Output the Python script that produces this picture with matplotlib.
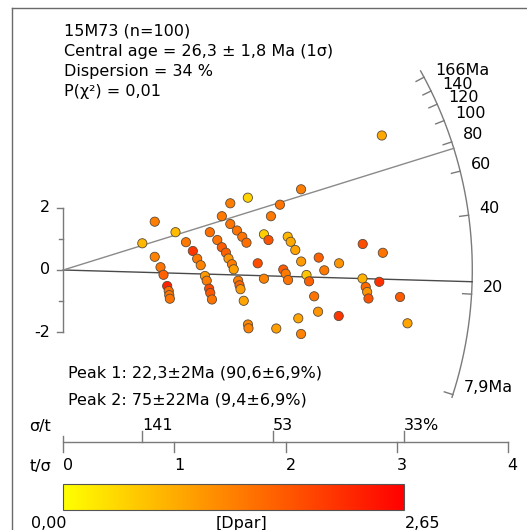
import numpy as np
import matplotlib
matplotlib.use("Agg")
import matplotlib.pyplot as plt
from matplotlib.colors import LinearSegmentedColormap
from matplotlib.lines import Line2D

# ---------------- sample summary ----------------
sample_name = "15M73"
n_grains = 100
central_age = "26,3"
central_err = "1,8"
dispersion = 34
p_chi2 = "0,01"

# ---------------- single-grain radial coordinates ----------------
# x: precision (t/sigma), y: standardised estimate, colour: Dpar
precision = [0.711, 0.823, 1.010, 0.823, 0.875, 0.902, 0.935, 0.949, 0.954, 0.959,
             1.104, 1.166, 1.205, 1.237, 1.275, 1.291, 1.313, 1.323, 1.338,
             1.319, 1.386, 1.427, 1.464, 1.487, 1.518, 1.534, 1.503, 1.661, 1.427,
             1.503, 1.563, 1.611, 1.649, 1.574, 1.586, 1.595, 1.624, 1.662, 1.667,
             1.750, 1.806, 1.847, 1.869, 1.950, 2.140, 1.806, 2.020, 2.047, 2.088,
             2.141, 2.299, 2.482, 2.349, 1.980, 2.002, 2.023, 2.189, 2.212, 2.258,
             2.293, 2.115, 2.479, 1.917, 2.140,
             2.695, 2.876, 2.693, 2.844, 2.722, 2.735, 2.747, 3.031, 3.098, 2.867]
std_estimate = [0.857, 1.550, 1.213, 0.423, 0.090, -0.154, -0.513, -0.674, -0.808, -0.921,
                0.892, 0.610, 0.363, 0.154, -0.192, -0.343, -0.600, -0.738, -0.946,
                1.213, 0.962, 0.731, 0.555, 0.369, 0.186, 0.022, 2.140, 2.320, 1.726,
                1.476, 1.267, 1.065, 0.876, -0.343, -0.491, -0.616, -0.988, -1.748, -1.870,
                0.215, 1.145, 0.962, 1.726, 2.095, 2.589, -0.279, 1.068, 0.905, 0.642,
                0.273, 0.398, 0.215, -0.010, 0.016, -0.119, -0.321, -0.160, -0.363, -0.844,
                -1.338, -1.550, -1.476, -1.877, -2.053,
                0.834, 0.552, -0.273, -0.379, -0.545, -0.706, -0.914, -0.866, -1.710, 4.315]
dpar = [0.75, 1.35, 0.70, 1.30, 1.45, 1.65, 2.30, 1.50, 1.40, 1.45,
        1.40, 2.10, 1.40, 1.30, 1.05, 1.35, 1.90, 1.75, 1.45,
        1.50, 1.45, 1.70, 1.65, 1.10, 1.35, 1.00, 1.35, 0.45, 1.40,
        1.45, 1.45, 1.45, 1.50, 1.35, 1.60, 1.05, 0.95, 1.25, 1.30,
        1.85, 0.50, 1.80, 1.40, 1.45, 1.35, 1.30, 0.75, 0.90, 0.95,
        1.05, 1.65, 1.10, 1.40, 1.70, 1.40, 1.45, 0.60, 1.65, 1.45,
        1.10, 0.95, 2.10, 1.00, 1.30,
        1.85, 1.45, 0.80, 2.15, 1.55, 1.10, 1.80, 1.70, 0.95, 0.90]

# ---------------- mixture peaks ----------------
peak_ages = [22.3, 75.0]
peak_labels = ["Peak 1: 22,3\u00b12Ma (90,6\u00b16,9%)",
               "Peak 2: 75\u00b122Ma (9,4\u00b16,9%)"]

# ---------------- axes ----------------
ref_age = 24.7                      # age of the horizontal (zero) line
age_ticks = [7.9, 20, 40, 60, 80, 100, 120, 140, 166]
age_tick_labels = ["7,9Ma", "20", "40", "60", "80", "100", "120", "140", "166Ma"]
y_ticks = [-2, -1, 0, 1, 2]
y_tick_labels = ["-2", "", "0", "", "2"]
precision_ticks = [0, 1, 2, 3, 4]
rel_err_ticks = [141, 53, 32.6]     # sigma/t in percent
dpar_min, dpar_max = 0.0, 2.65

# ---------------- layout (pixels) ----------------
W, H = 527, 530
X0, Y0 = 63.3, 270.0        # radial plot origin
SX, SY = 111.1, 31.17       # pixels per unit of t/sigma and of standardised estimate
R_ARC = 409.0               # arc radius in pixels
FS = 11.5
TXT = dict(family="DejaVu Sans", fontsize=FS, color="black")

fig = plt.figure(figsize=(W / 100, H / 100), dpi=100)
ax = fig.add_axes([0, 0, 1, 1])
ax.set_xlim(-X0 / SX, (W - X0) / SX)
ax.set_ylim(-(H - Y0) / SY, Y0 / SY)
ax.axis("off")


def fx(px):
    return px / W


def fy(py):
    return 1 - py / H


def angle_of(age):
    return np.arctan(np.log(age / ref_age) * SY / SX)


def polar(theta, r):
    return r * np.cos(theta) / SX, r * np.sin(theta) / SY


# frame
frame_kw = dict(color="#6a6a6a", lw=1.0, transform=fig.transFigure)
fig.add_artist(Line2D([fx(11.7), fx(11.7)], [fy(8.3), 0], **frame_kw))
fig.add_artist(Line2D([fx(11.7), 1], [fy(8.3), fy(8.3)], **frame_kw))

# header text
header = [f"{sample_name} (n={n_grains})",
          f"Central age = {central_age} \u00b1 {central_err} Ma (1\u03c3)",
          f"Dispersion = {dispersion} %",
          f"P(\u03c7\u00b2) = {p_chi2}"]
for i, line in enumerate(header):
    fig.text(fx(64), fy(31 + 20.2 * i), line, ha="left", va="center", **TXT)

# age arc
th_lo = angle_of(min(age_ticks)) - np.radians(0.4)
th_hi = angle_of(max(age_ticks)) + np.radians(1.0)
th = np.linspace(th_lo, th_hi, 300)
ax_, ay_ = polar(th, R_ARC)
ax.plot(ax_, ay_, color="#7a7a7a", lw=1.0, zorder=2)
for age, lab in zip(age_ticks, age_tick_labels):
    t = angle_of(age)
    xo, yo = polar(t, R_ARC)
    xi, yi = polar(t, R_ARC - 9)
    ax.plot([xi, xo], [yi, yo], color="#7a7a7a", lw=1.0, zorder=2)
    ax.annotate(lab, (xo, yo), xytext=(11 * 0.72, 7 * 0.72), textcoords="offset points",
                ha="left", va="center", **TXT)

# peak lines
peak_colors = ["#4a4a4a", "#8a8a8a"]
for age, col in zip(peak_ages, peak_colors):
    xe, ye = polar(angle_of(age), R_ARC)
    ax.plot([0, xe], [0, ye], color=col, lw=1.0, zorder=2)

# standardised-estimate axis
tick_px = 6 / SX
ax.plot([0, 0], [min(y_ticks), max(y_ticks)], color="#7a7a7a", lw=1.0, zorder=2)
for v, lab in zip(y_ticks, y_tick_labels):
    L = (6 if lab else 4) / SX
    ax.plot([-L, 0], [v, v], color="#7a7a7a", lw=1.0, zorder=2)
    if lab:
        ax.text(-13.5 / SX, v, lab, ha="right", va="center", **TXT)

# grains
cmap = LinearSegmentedColormap.from_list("dpar", ["#ffff00", "#ff0000"])
sc = ax.scatter(precision, std_estimate, c=dpar, cmap=cmap, vmin=dpar_min, vmax=dpar_max,
                s=44, edgecolors="#5a4a3a", linewidths=0.6, zorder=3)

# peak text
for i, lab in enumerate(peak_labels):
    fig.text(fx(68.3), fy(373.5 + 26.5 * i), lab, ha="left", va="center", **TXT)

# precision / relative error axis
yb = (Y0 - 442.3) / SY
ax.plot([0, max(precision_ticks)], [yb, yb], color="#7a7a7a", lw=1.0, zorder=2)
for v in precision_ticks:
    top = 6 if v == 0 else 0
    ax.plot([v, v], [yb - 10 / SY, yb + top / SY], color="#7a7a7a", lw=1.0, zorder=2)
    ax.text(v, yb - 23.7 / SY, f"{v}", ha="left", va="center", **TXT)
for pct in rel_err_ticks:
    v = 100.0 / pct
    ax.plot([v, v], [yb, yb + 11 / SY], color="#7a7a7a", lw=1.0, zorder=2)
    lab = f"{pct:.0f}%" if pct == rel_err_ticks[-1] else f"{pct:.0f}"
    ax.text(v, yb + 16.6 / SY, lab, ha="left", va="center", **TXT)
fig.text(fx(40), fy(426.5), "\u03c3/t", ha="center", va="center", **TXT)
fig.text(fx(40), fy(466), "t/\u03c3", ha="center", va="center", **TXT)

# Dpar colour scale
cax = fig.add_axes([fx(63.3), fy(510), (404.3 - 63.3) / W, 26 / H])
cb = fig.colorbar(sc, cax=cax, orientation="horizontal")
cb.set_ticks([])
cb.outline.set_edgecolor("#555555")
cb.outline.set_linewidth(0.8)
fig.text(fx(66), fy(523.5), f"{dpar_min:.2f}".replace(".", ","), ha="right", va="center", **TXT)
fig.text(fx(241.7), fy(523.5), "[Dpar]", ha="center", va="center", **TXT)
fig.text(fx(405), fy(523.5), f"{dpar_max:.2f}".replace(".", ","), ha="left", va="center", **TXT)

fig.savefig("out.png", dpi=100)
